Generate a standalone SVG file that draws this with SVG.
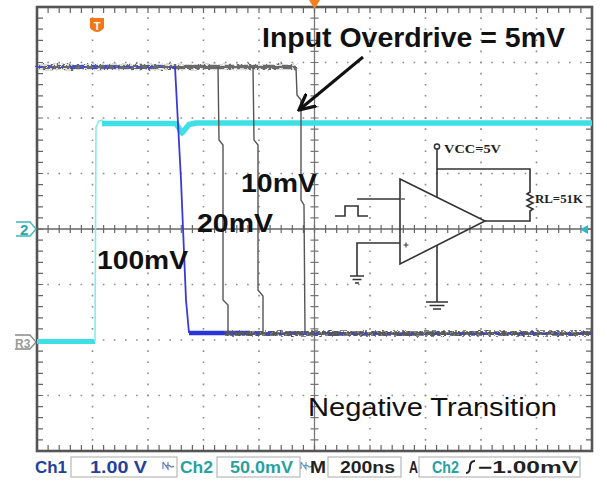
<svg xmlns="http://www.w3.org/2000/svg" width="607" height="482" viewBox="0 0 607 482">
<defs>
<style>
.grid{stroke:#8a8a8a;stroke-width:1.6;stroke-dasharray:1.6 9.5;stroke-dashoffset:0.8;fill:none}
.ckt{stroke:#333;stroke-width:1.6;fill:none}
.lbl{font-family:"Liberation Sans",Arial,sans-serif;font-weight:bold;fill:#111}
.sb{font-family:"Liberation Sans",Arial,sans-serif;font-weight:bold;font-size:16.5px}
.box{fill:#fff;stroke:#b8b8b8;stroke-width:1.2}
.ser{font-family:"Liberation Serif","Times New Roman",serif;font-weight:bold;font-size:12px;fill:#222}
</style>
<filter id="noise" filterUnits="userSpaceOnUse" x="0" y="0" width="607" height="482">
<feTurbulence type="fractalNoise" baseFrequency="0.35 0.6" numOctaves="2" seed="3" result="t"/>
<feDisplacementMap in="SourceGraphic" in2="t" scale="6" xChannelSelector="R" yChannelSelector="G"/>
</filter>
<marker id="ah" viewBox="0 0 10 10" refX="9" refY="5" markerWidth="6" markerHeight="6" orient="auto" markerUnits="strokeWidth">
<path d="M0,0.5 L9,5 L0,9.5" fill="none" stroke="#111" stroke-width="1.8"/>
</marker>
</defs>
<rect width="607" height="482" fill="#fff"/>

<g id="graticule">
<line class="grid" x1="92.5" y1="7" x2="92.5" y2="451"/>
<line class="grid" x1="148" y1="7" x2="148" y2="451"/>
<line class="grid" x1="203.5" y1="7" x2="203.5" y2="451"/>
<line class="grid" x1="259" y1="7" x2="259" y2="451"/>
<line class="grid" x1="370" y1="7" x2="370" y2="451"/>
<line class="grid" x1="425.5" y1="7" x2="425.5" y2="451"/>
<line class="grid" x1="481" y1="7" x2="481" y2="451"/>
<line class="grid" x1="536.5" y1="7" x2="536.5" y2="451"/>
<line class="grid" x1="37" y1="62.5" x2="592" y2="62.5"/>
<line class="grid" x1="37" y1="118" x2="592" y2="118"/>
<line class="grid" x1="37" y1="173.5" x2="592" y2="173.5"/>
<line class="grid" x1="37" y1="284.5" x2="592" y2="284.5"/>
<line class="grid" x1="37" y1="340" x2="592" y2="340"/>
<line class="grid" x1="37" y1="395.5" x2="592" y2="395.5"/>
<line x1="37" y1="229" x2="592" y2="229" stroke="#666" stroke-width="1.3"/>
<line x1="314.5" y1="7" x2="314.5" y2="451" stroke="#777" stroke-width="1.3"/>
<line x1="37" y1="229" x2="592" y2="229" stroke="#666" stroke-width="8" stroke-dasharray="1.2 9.9" stroke-dashoffset="0.6"/>
<line x1="314.5" y1="7" x2="314.5" y2="451" stroke="#777" stroke-width="8" stroke-dasharray="1.2 9.9" stroke-dashoffset="0.6"/>
<line x1="37" y1="10" x2="592" y2="10" stroke="#666" stroke-width="6" stroke-dasharray="1.2 9.9" stroke-dashoffset="0.6"/>
<line x1="37" y1="448" x2="592" y2="448" stroke="#666" stroke-width="6" stroke-dasharray="1.2 9.9" stroke-dashoffset="0.6"/>
<line x1="40" y1="7" x2="40" y2="451" stroke="#666" stroke-width="6" stroke-dasharray="1.2 9.9" stroke-dashoffset="0.6"/>
<line x1="589" y1="7" x2="589" y2="451" stroke="#666" stroke-width="6" stroke-dasharray="1.2 9.9" stroke-dashoffset="0.6"/>
<rect x="37" y="7" width="555" height="444" fill="none" stroke="#555" stroke-width="2.6"/>
</g>

<g id="markers">
<polygon points="309,0 320,0 314.5,9" fill="#f08020"/>
<path d="M90,18 H104 V28 Q97,36 90,28 Z" fill="#f07818"/>
<text x="97" y="30" font-family="Liberation Sans,Arial,sans-serif" font-weight="bold" font-size="11" fill="#fff" text-anchor="middle">T</text>
<path d="M16,222 H30 L36,229 L30,236 H16" fill="none" stroke="#3cb8b8" stroke-width="1.3"/>
<text x="20" y="235" font-family="Liberation Sans,Arial,sans-serif" font-weight="bold" font-size="15" fill="#2aa8a8">2</text>
<path d="M15,335 H30 L36,342 L30,349 H15" fill="none" stroke="#888" stroke-width="1.3"/>
<text x="15" y="347.5" font-family="Liberation Sans,Arial,sans-serif" font-weight="bold" font-size="12" fill="#999">R3</text>
<polygon points="580,229.5 588,225 588,234" fill="#30b8c0"/>
</g>

<g id="traces">
<path d="M37,341.5 H95" stroke="#3ee0e6" stroke-width="5" fill="none"/>
<path d="M95,341 L96,127 L99,121 L103,120" stroke="#86eaf0" stroke-width="1.6" fill="none"/>
<path d="M102,123.5 H176 L182,133 L189,124.5 L196,123 H592" stroke="#3ee0e6" stroke-width="5.5" fill="none" stroke-linejoin="round"/>
<path d="M37,67 H297" stroke="#6a6a6a" stroke-width="4.5" fill="none" filter="url(#noise)"/>
<path d="M37,67 H176" stroke="#4050c8" stroke-width="2" stroke-dasharray="6 5" fill="none" filter="url(#noise)"/>
<path d="M175,67 L181,180 L186,300 L189,333" stroke="#3a3ad8" stroke-width="1.8" fill="none"/>
<path d="M218,67 L219,140 L223,145 L223,300 L228,305 L228,333" stroke="#555" stroke-width="1.4" fill="none"/>
<path d="M253,67 L254,140 L258,145 L258,290 L263,296 L263,333" stroke="#555" stroke-width="1.4" fill="none"/>
<path d="M296,67 L297,95 L301,100 L301,200 L304,205 L305,333" stroke="#555" stroke-width="1.4" fill="none"/>
<path d="M189,333 H250" stroke="#2a34d8" stroke-width="4.5" fill="none"/>
<path d="M225,333.5 H592" stroke="#5a5a5a" stroke-width="4.5" fill="none" filter="url(#noise)"/>
<path d="M230,333.5 H592" stroke="#3a48c0" stroke-width="1.8" stroke-dasharray="5 7" fill="none" filter="url(#noise)"/>
</g>

<g id="circuit">
<polygon class="ckt" points="400,179 485,221 400,264"/>
<circle cx="437" cy="146.5" r="2.6" fill="#fff" stroke="#333" stroke-width="1.5"/>
<path class="ckt" d="M437,149 V197"/>
<path class="ckt" d="M437,169 H530 V192 l-3,2 l6,3 l-6,3 l6,3 l-6,3 l6,3 l-3,2 V221 H485"/>
<path class="ckt" d="M357,199 H400"/>
<path class="ckt" d="M335,216 H345 V206 H358 V216 H368"/>
<path class="ckt" d="M400,243 H357 V276"/>
<path class="ckt" d="M350,276 H364 M352.5,279.5 H361.5 M355,283 H359"/>
<path class="ckt" d="M437,245 V302"/>
<path class="ckt" d="M426,302 H448 M429.5,305.5 H444.5 M433,309 H441"/>
<path d="M401,199 H405" stroke="#333" stroke-width="1.2"/>
<path d="M403.5,245 H408.5 M406,242.5 V247.5" stroke="#333" stroke-width="1"/>
<text class="ser" x="444" y="153" textLength="57" lengthAdjust="spacingAndGlyphs">VCC=5V</text>
<text class="ser" x="535" y="203" textLength="48" lengthAdjust="spacingAndGlyphs">RL=51K</text>
</g>

<g id="connectors">
<path d="M363,57 L299,110" stroke="#111" stroke-width="3" fill="none" marker-end="url(#ah)"/>
</g>

<g id="labels">
<text class="lbl" x="262" y="47" font-size="28" textLength="303" lengthAdjust="spacingAndGlyphs">Input Overdrive = 5mV</text>
<text class="lbl" x="241" y="192" font-size="25" textLength="76" lengthAdjust="spacingAndGlyphs">10mV</text>
<text class="lbl" x="197" y="232" font-size="26" textLength="76" lengthAdjust="spacingAndGlyphs">20mV</text>
<text class="lbl" x="97" y="269" font-size="26" textLength="91" lengthAdjust="spacingAndGlyphs">100mV</text>
<text x="308" y="416" font-family="Liberation Sans,Arial,sans-serif" font-size="26" fill="#111" textLength="249" lengthAdjust="spacingAndGlyphs">Negative Transition</text>
</g>

<g id="statusbar">
<text class="sb" x="35" y="473" fill="#23409a" textLength="32" lengthAdjust="spacingAndGlyphs">Ch1</text>
<rect class="box" x="71" y="457" width="106" height="20"/>
<text class="sb" x="90" y="473" fill="#23409a" textLength="57" lengthAdjust="spacingAndGlyphs">1.00 V</text>
<path d="M163,462 v7 M163,462 l5,7 v-7 M166,466 q2,-2 4,0 q2,2 4,0" stroke="#5a7ab8" stroke-width="1.1" fill="none"/>
<text class="sb" x="180" y="473" fill="#2aa0a0" textLength="33" lengthAdjust="spacingAndGlyphs">Ch2</text>
<rect class="box" x="217" y="457" width="83" height="20"/>
<text class="sb" x="230" y="473" fill="#2aa0a0" textLength="63" lengthAdjust="spacingAndGlyphs">50.0mV</text>
<path d="M301,462 v7 M301,462 l5,7 v-7 M304,466 q2,-2 4,0 q2,2 4,0" stroke="#5a9ab8" stroke-width="1.1" fill="none"/>
<text class="sb" x="310" y="473" fill="#222" textLength="16" lengthAdjust="spacingAndGlyphs">M</text>
<rect class="box" x="328" y="457" width="73" height="20"/>
<text class="sb" x="340" y="473" fill="#222" textLength="55" lengthAdjust="spacingAndGlyphs">200ns</text>
<text class="sb" x="409" y="473" fill="#222" textLength="9" lengthAdjust="spacingAndGlyphs">A</text>
<rect class="box" x="419" y="457" width="161" height="20"/>
<text class="sb" x="432" y="473" fill="#2aa0a0" textLength="27" lengthAdjust="spacingAndGlyphs">Ch2</text>
<path d="M466,473 Q470,473 470,467 Q470,461 475,461" stroke="#222" stroke-width="2" fill="none"/>
<text class="sb" x="478" y="473" fill="#222" textLength="100" lengthAdjust="spacingAndGlyphs">−1.00mV</text>
</g>
</svg>
